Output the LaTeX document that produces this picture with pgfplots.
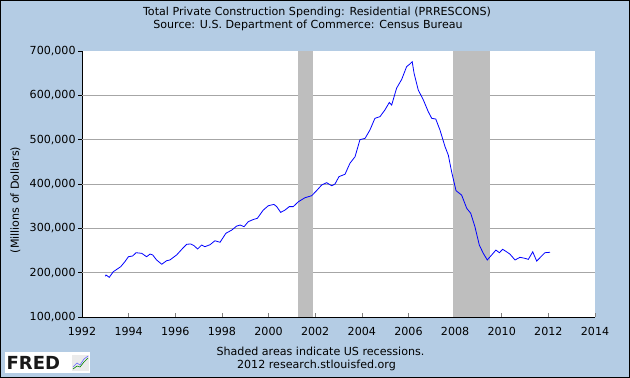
\documentclass[border=0pt]{standalone}
\usepackage{fontspec}
\setmainfont{DejaVu Sans}
\usepackage{pgfplots}
\pgfplotsset{compat=1.18}
\definecolor{fredbg}{HTML}{B4CCE4}
\definecolor{gridgray}{HTML}{A6A6A6}
\definecolor{recgray}{HTML}{BEBEBE}
\definecolor{fredline}{HTML}{0000FF}
\begin{document}
\fontsize{11.1bp}{13bp}\selectfont
\begin{tikzpicture}
\fill[fredbg] (0,0) rectangle (630bp,378bp);
\begin{axis}[
  at={(82bp,61bp)}, anchor=south west,
  scale only axis, width=513bp, height=266bp,
  xmin=1992, xmax=2014, ymin=100000, ymax=700000,
  axis lines=left,
  axis line style={-, black, line width=0.8bp},
  axis background/.style={fill=white},
  xtick={1992,1994,...,2014},
  ytick={100000,200000,...,700000},
  extra y ticks={200000,300000,400000,500000,600000},
  extra y tick labels={},
  extra y tick style={grid=major, major grid style={gridgray, line width=0.8bp}, major tick length=0pt},
  scaled y ticks=false,
  scaled x ticks=false,
  minor tick num=0,
  tick align=inside,
  major tick length=4bp,
  x tick style={gray, line width=0.6bp},
  y tick style={black, line width=0.8bp, xshift=-4bp},
  /pgf/number format/assume math mode=true,
  xticklabel style={/pgf/number format/fixed, /pgf/number format/precision=0, /pgf/number format/1000 sep={}, yshift=-6bp},
  yticklabel style={/pgf/number format/fixed, /pgf/number format/precision=0, /pgf/number format/1000 sep={,}, xshift=-2.5bp},
  clip=true,
]
\addplot[draw=none, fill=recgray] coordinates {(2001.25,100000) (2001.25,700000) (2001.917,700000) (2001.917,100000)};
\addplot[draw=none, fill=recgray] coordinates {(2007.917,100000) (2007.917,700000) (2009.5,700000) (2009.5,100000)};
\addplot[fredline, line width=0.8bp] coordinates {
(1993.00,192000) (1993.03,194700) (1993.17,189500) (1993.34,202000) (1993.66,213500)
(1993.84,224800) (1993.99,236000) (1994.17,237600) (1994.32,245000) (1994.56,243600)
(1994.77,236000) (1994.92,242000) (1995.03,240000) (1995.20,228600) (1995.42,219000)
(1995.63,227000) (1995.77,228600) (1996.06,240000) (1996.32,255000) (1996.49,264000)
(1996.66,264700) (1996.80,261000) (1996.96,253400) (1997.13,262400) (1997.27,258600)
(1997.49,263000) (1997.70,272000) (1997.92,268500) (1998.17,288800) (1998.42,296000)
(1998.63,305000) (1998.78,307500) (1998.95,303700) (1999.13,315000) (1999.35,320000)
(1999.52,322600) (1999.77,341000) (1999.99,351000) (2000.23,354000) (2000.35,349000)
(2000.52,336000) (2000.70,341000) (2000.89,349000) (2001.06,349000) (2001.28,360000)
(2001.56,369000) (2001.85,373600) (2002.06,385000) (2002.28,397800) (2002.49,403000)
(2002.71,396000) (2002.85,400000) (2003.02,416500) (2003.28,422000) (2003.49,446700)
(2003.71,461600) (2003.92,500000) (2004.14,503000) (2004.35,522000) (2004.56,548000)
(2004.78,552000) (2004.99,567000) (2005.18,584000) (2005.28,578000) (2005.49,616000)
(2005.71,636000) (2005.92,664600) (2006.06,670700) (2006.16,676000) (2006.24,650000)
(2006.42,612000) (2006.64,589500) (2006.85,563000) (2007.00,548000) (2007.17,546600)
(2007.35,522000) (2007.57,484000) (2007.71,465000) (2007.85,427800) (2008.04,385000)
(2008.28,375000) (2008.50,345000) (2008.67,334000) (2008.85,303700) (2009.04,262000)
(2009.21,243600) (2009.38,228600) (2009.57,240000) (2009.75,251000) (2009.90,245000)
(2010.04,252700) (2010.21,247000) (2010.35,242000) (2010.57,228600) (2010.78,234600)
(2010.99,232400) (2011.14,230000) (2011.33,247000) (2011.50,226000) (2011.71,237600)
(2011.85,245000) (2012.07,246000)
};
\end{axis}
\node at (317bp,365.5bp) {Total Private Construction Spending: Residential (PRRESCONS)};
\node at (308bp,352.5bp) {Source: U.S. Department of Commerce: Census Bureau};
\node[rotate=90] at (15.5bp,178bp) {(Millions of Dollars)};
\node at (320.5bp,26.3bp) {Shaded areas indicate US recessions.};
\node at (316.5bp,13bp) {2012 research.stlouisfed.org};
% FRED logo
\fill[white] (5bp,5bp) rectangle (90bp,25.5bp);
\node[anchor=west, inner sep=0pt, text=black!90, font=\bfseries\fontsize{18bp}{18bp}\selectfont] at (6.5bp,15.3bp) {FRED};
\fill[black!8] (72bp,7bp) rectangle (89bp,23bp);
\draw[green!50!black, line width=0.6bp] (73bp,9bp) -- (77bp,12bp) -- (80bp,11bp) -- (84bp,16bp) -- (88bp,20bp);
\draw[blue!60, line width=0.6bp] (73bp,11bp) -- (77bp,15bp) -- (80bp,13bp) -- (84bp,19bp) -- (88bp,22bp);
\draw[black, line width=1bp] (0.5bp,0.5bp) rectangle (629.5bp,377.5bp);
\pgfresetboundingbox
\useasboundingbox (0,0) rectangle (630bp,378bp);
\end{tikzpicture}
\end{document}
